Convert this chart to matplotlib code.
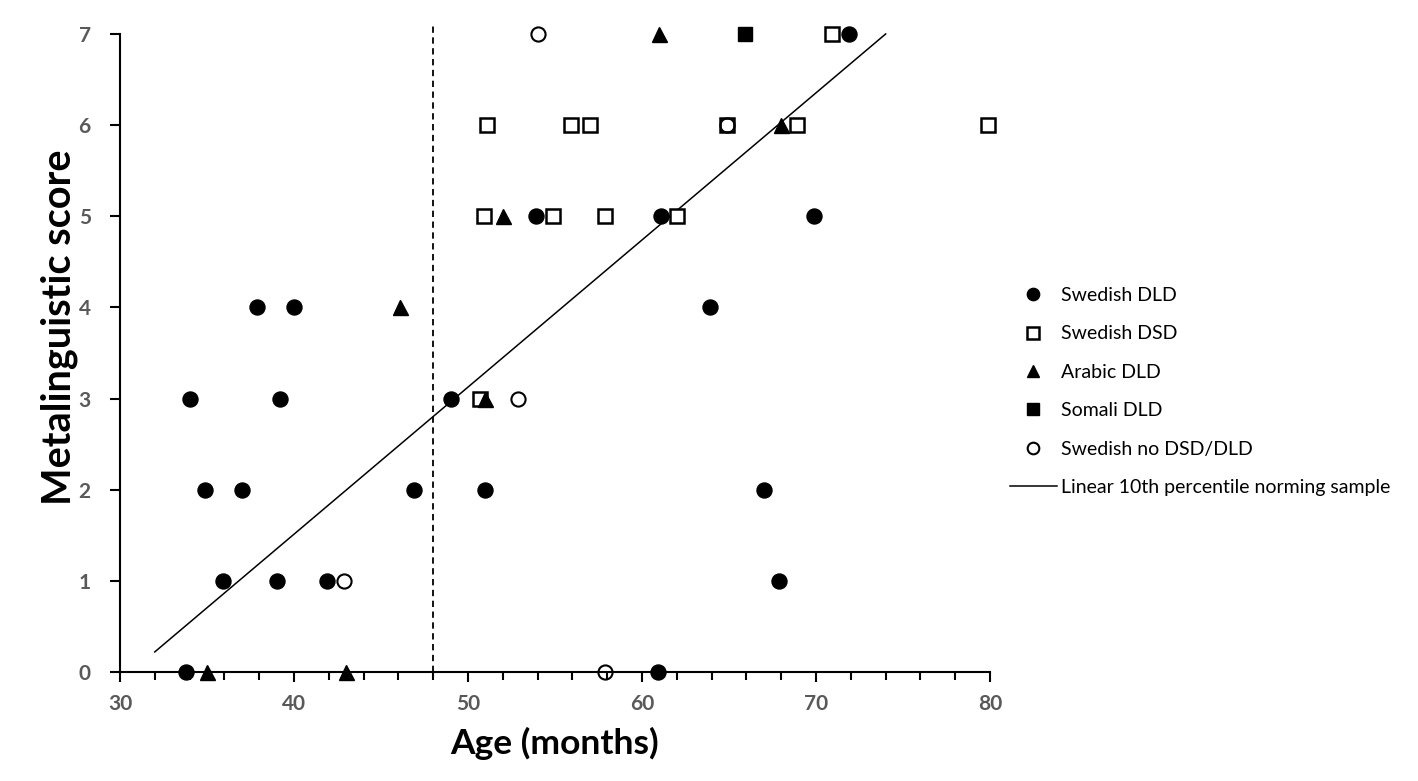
import matplotlib
matplotlib.use("Agg")
import matplotlib.pyplot as plt
from matplotlib.ticker import MultipleLocator

# ---- data ----
swe_dld_x = [33.8, 34.0, 34.9, 35.9, 37.0, 37.9, 39.2, 39.0, 40.0, 41.9, 46.9,
             49.0, 51.0, 53.9, 60.9, 61.1, 63.9, 67.0, 67.9, 69.9, 71.9]
swe_dld_y = [0, 3, 2, 1, 2, 4, 3, 1, 4, 1, 2,
             3, 2, 5, 0, 5, 4, 2, 1, 5, 7]

swe_dsd_x = [50.9, 51.1, 50.7, 54.9, 55.9, 57.0, 57.9, 62.0, 64.9, 68.9, 70.9, 79.9]
swe_dsd_y = [5, 6, 3, 5, 6, 6, 5, 5, 6, 6, 7, 6]

arab_dld_x = [35.0, 43.0, 46.1, 51.0, 52.0, 61.0, 68.0]
arab_dld_y = [0, 0, 4, 3, 5, 7, 6]

som_dld_x = [65.9]
som_dld_y = [7]

swe_none_x = [54.0, 42.9, 52.9, 57.9, 64.9]
swe_none_y = [7, 1, 3, 0, 6]

norm_x = [32, 74]
norm_y = [0.22, 7.0]

cutoff_age = 48

x_ticks = [30, 40, 50, 60, 70, 80]
y_ticks = [0, 1, 2, 3, 4, 5, 6, 7]

FONT = ["Lato", "DejaVu Sans"]

# ---- figure ----
fig = plt.figure(figsize=(14.18, 7.81), dpi=100)
ax = fig.add_axes([0.0846, 0.1396, 0.6136, 0.8169])

ms = 10.8
common = dict(linestyle="none", clip_on=False, zorder=3)
ax.plot(swe_dld_x, swe_dld_y, marker="o", ms=ms, mfc="black", mec="black",
        label="Swedish DLD", **common)
ax.plot(swe_dsd_x, swe_dsd_y, marker="s", ms=ms - 0.8, mfc="white", mec="black",
        mew=1.8, label="Swedish DSD", **common)
ax.plot(arab_dld_x, arab_dld_y, marker="^", ms=ms, mfc="black", mec="black",
        label="Arabic DLD", **common)
ax.plot(som_dld_x, som_dld_y, marker="s", ms=ms - 0.8, mfc="black", mec="black",
        label="Somali DLD", **common)
ax.plot(swe_none_x, swe_none_y, marker="o", ms=ms - 0.6, mfc="none", mec="black",
        mew=1.5, label="Swedish no DSD/DLD", **common)
ax.plot(norm_x, norm_y, color="black", lw=1.1,
        label="Linear 10th percentile norming sample", clip_on=False, zorder=2)

ax.plot([cutoff_age, cutoff_age], [0, 7.1], color="black", lw=1.3,
        linestyle=(0, (3.5, 2.5)), clip_on=False, zorder=1)

ax.set_xlim(30, 80)
ax.set_ylim(0, 7)
ax.set_xticks(x_ticks)
ax.set_yticks(y_ticks)
ax.xaxis.set_minor_locator(MultipleLocator(2))

for s in ["top", "right"]:
    ax.spines[s].set_visible(False)
for s in ["left", "bottom"]:
    ax.spines[s].set_linewidth(1.5)

tick_col = "#595959"
ax.tick_params(axis="both", which="major", direction="out", length=7, width=1.5,
               labelsize=15, labelcolor=tick_col)
ax.tick_params(axis="x", which="major", pad=9)
ax.tick_params(axis="y", which="major", pad=14)
ax.tick_params(axis="x", which="minor", direction="out", length=6, width=1.5)
for lab in ax.get_xticklabels() + ax.get_yticklabels():
    lab.set_fontweight("bold")
    lab.set_family(FONT)

ax.set_xlabel("Age (months)", fontsize=25.5, fontweight="bold", family=FONT,
              labelpad=9)
ax.set_ylabel("Metalinguistic score", fontsize=28.5, fontweight="bold",
              family=FONT)
ax.yaxis.set_label_coords(-0.048, 0.54)

leg = fig.legend(loc="upper left", bbox_to_anchor=(0.7, 0.655), frameon=False,
                 prop={"family": FONT, "size": 14}, labelspacing=1.1,
                 handlelength=2.4, handletextpad=0.2, markerscale=0.82)

fig.savefig("out.png", dpi=100)
